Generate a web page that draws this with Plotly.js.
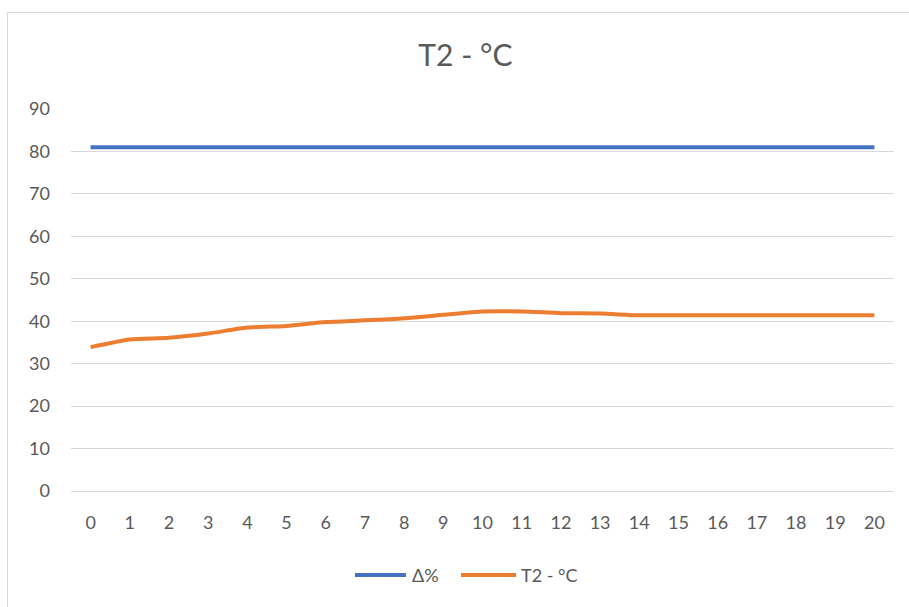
<!DOCTYPE html>
<html>
<head>
<meta charset="utf-8">
<script src="https://cdn.plot.ly/plotly-3.0.1.min.js"></script>
<style>
html,body{margin:0;padding:0;background:#fff;}
#chart{position:absolute;left:0;top:0;width:909px;height:607px;}
#frame{position:absolute;left:7px;top:12px;width:910px;height:600px;border:1px solid #D9D9D9;pointer-events:none;}
</style>
</head>
<body>
<div id="chart"></div>
<div id="frame"></div>
<script>
const categories = ["0","1","2","3","4","5","6","7","8","9","10","11","12","13","14","15","16","17","18","19","20"];
const deltaPct = [81,81,81,81,81,81,81,81,81,81,81,81,81,81,81,81,81,81,81,81,81];
const t2 = [33.9,35.7,36.1,37.1,38.5,38.9,39.8,40.2,40.7,41.5,42.3,42.3,41.9,41.8,41.4,41.4,41.4,41.4,41.4,41.4,41.4];
const yTicks = [0,10,20,30,40,50,60,70,80,90];
const seriesNames = ["Δ%", "T2 - °C"];
const seriesColors = ["#4472C4", "#ED7D31"];

const font = "Lato, 'Open Sans', sans-serif";
const traces = [
  {x: categories, y: deltaPct, name: seriesNames[0], type: "scatter", mode: "lines",
   line: {color: seriesColors[0], width: 4, shape: "spline"}},
  {x: categories, y: t2, name: seriesNames[1], type: "scatter", mode: "lines",
   line: {color: seriesColors[1], width: 4, shape: "spline", smoothing: 0.6}}
];

// custom legend (paper coordinates), to get Excel-like long line samples
const legY = -0.2199;
const legSpec = [
  {x0: 0.3451, x1: 0.4070, tx: 0.4119},
  {x0: 0.4739, x1: 0.5407, tx: 0.5444}
];
const shapes = legSpec.map((s, i) => ({
  type: "line", xref: "paper", yref: "paper", x0: s.x0, x1: s.x1, y0: legY, y1: legY,
  line: {color: seriesColors[i], width: 4}
}));
const annotations = legSpec.map((s, i) => ({
  xref: "paper", yref: "paper", x: s.tx, y: legY, xanchor: "left", yanchor: "middle",
  text: seriesNames[i], showarrow: false, font: {size: 18, color: "#595959", family: font}
}));

const layout = {
  width: 909, height: 607,
  margin: {l: 71, r: 15, t: 109, b: 116},
  paper_bgcolor: "#fff", plot_bgcolor: "#fff",
  font: {family: font, color: "#595959", size: 18},
  title: {text: "T2 - °C", font: {family: font, size: 30, color: "#595959"},
          x: 0.512, xanchor: "center", y: 0.909, yanchor: "middle"},
  xaxis: {type: "category", range: [-0.5, 20.5], showgrid: false, zeroline: false,
          showline: true, linecolor: "#D9D9D9", linewidth: 1, ticks: "",
          ticklabelstandoff: 15, tickfont: {size: 18, color: "#595959"}, fixedrange: true},
  yaxis: {range: [0, 90], tickvals: yTicks, showgrid: true, gridcolor: "#D9D9D9", gridwidth: 1,
          zeroline: false, showline: false, ticks: "", ticklabelstandoff: 20,
          tickfont: {size: 18, color: "#595959"}, fixedrange: true},
  showlegend: false,
  shapes: shapes,
  annotations: annotations
};
Plotly.newPlot("chart", traces, layout, {displayModeBar: false, staticPlot: true});
</script>
</body>
</html>
